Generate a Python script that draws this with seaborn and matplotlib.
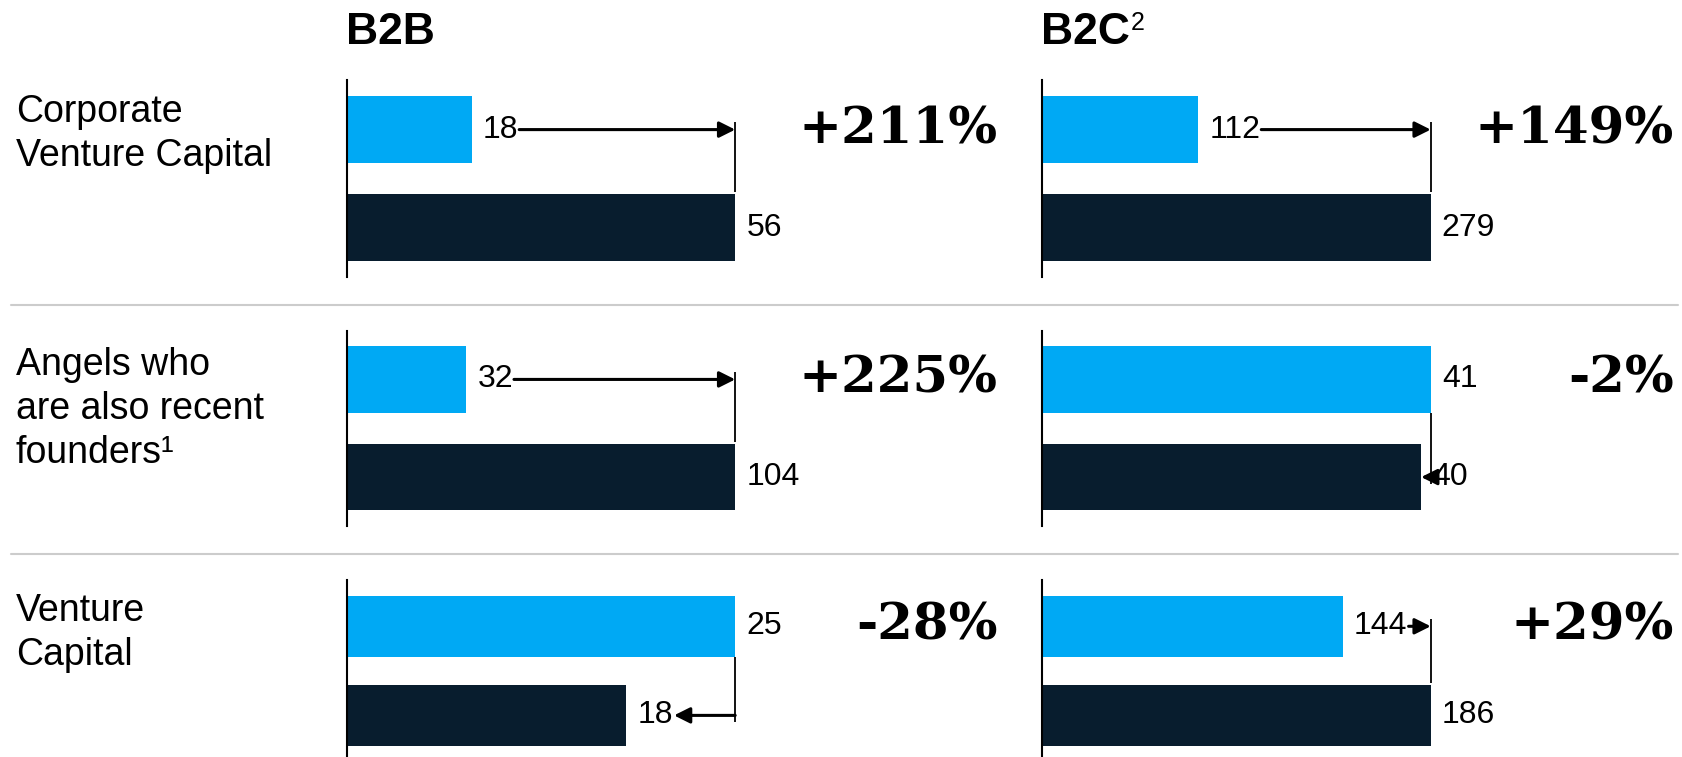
import matplotlib
matplotlib.use("Agg")
import matplotlib.pyplot as plt
import matplotlib.transforms as mtransforms
from matplotlib.lines import Line2D
import pandas as pd
import seaborn as sns

# Deal counts per investor type, before and after, for each business model
investor_types = ["Corporate\nVenture Capital",
                  "Angels who\nare also recent\nfounders\u00b9",
                  "Venture\nCapital"]
segments = ["B2B", "B2C"]
periods = ["Before", "After"]
b2b_before = [18, 32, 25]
b2b_after = [56, 104, 18]
b2c_before = [112, 41, 144]
b2c_after = [279, 40, 186]

LIGHT = "#00A9F4"
DARK = "#081D2E"
GRID = "#CCCCCC"

sns.set_theme(style="white")
plt.rcParams["font.family"] = ["Liberation Sans", "DejaVu Sans"]

W, H = 1683, 757
fig = plt.figure(figsize=(W / 100, H / 100), dpi=100)
renderer = fig.canvas.get_renderer()


def px_rect(x0, y0, w, h):
    return [x0 / W, 1 - (y0 + h) / H, w / W, h / H]


# panel layout in pixels
col_x = [346.7, 1042.2]
col_w = 388.5
row_y = [80.5, 330.6, 579.6]
row_h = [196.4, 195.3, 177.4]
row_ylim = [(1.5, -0.5), (1.5, -0.5), (1.467, -0.524)]
label_top = [94, 347, 593]
pct_right = [998, 1674]
BAR_W = 0.68
HALF = BAR_W / 2

values = {"B2B": (b2b_before, b2b_after), "B2C": (b2c_before, b2c_after)}

NUM_FS = 23
GAP_PT = 8
ARROW = dict(arrowstyle="-|>", color="black", lw=2.2, mutation_scale=24,
             shrinkA=0, shrinkB=0)


def value_label(ax, x, y, text):
    t = ax.annotate(text, xy=(x, y), xytext=(GAP_PT, 0), textcoords="offset points",
                    ha="left", va="center", fontsize=NUM_FS, color="black",
                    annotation_clip=False)
    bb = t.get_window_extent(renderer)
    inv = ax.transData.inverted()
    x0 = inv.transform((bb.x0, bb.y0))[0]
    x1 = inv.transform((bb.x1, bb.y0))[0]
    return x0, x1


for c, seg in enumerate(segments):
    before_vals, after_vals = values[seg]
    for r in range(len(investor_types)):
        ax = fig.add_axes(px_rect(col_x[c], row_y[r], col_w, row_h[r]))
        before, after = before_vals[r], after_vals[r]
        df = pd.DataFrame({"period": periods, "value": [before, after]})
        sns.barplot(data=df, x="value", y="period", hue="period",
                    order=periods, hue_order=periods, palette=[LIGHT, DARK],
                    orient="h", width=BAR_W, saturation=1, linewidth=0,
                    legend=False, ax=ax)
        top = max(before, after)
        ax.set_xlim(0, top)
        ax.set_ylim(*row_ylim[r])
        ax.set_xticks([])
        ax.set_yticks([])
        ax.set_xlabel("")
        ax.set_ylabel("")
        for side in ["top", "right", "bottom"]:
            ax.spines[side].set_visible(False)
        ax.spines["left"].set_color("black")
        ax.spines["left"].set_linewidth(1.5)
        ax.set_facecolor("none")

        dx_px = top / col_w  # data units per pixel
        if after >= before:
            lx0, lx1 = value_label(ax, before, 0, f"{before}")
            value_label(ax, after, 1, f"{after}")
            ax.annotate("", xy=(top, 0), xytext=(lx1 + 1 * dx_px, 0),
                        arrowprops=ARROW, annotation_clip=False)
            ax.plot([top, top], [-0.08, 1 - HALF - 0.02], color="black",
                    lw=1.3, solid_capstyle="butt", clip_on=False)
        else:
            value_label(ax, before, 0, f"{before}")
            lx0, lx1 = value_label(ax, after, 1, f"{after}")
            tip = lx1 + 1 * dx_px if lx1 < before - 6 * dx_px else after
            ax.plot([before, before], [HALF, 1.07], color="black",
                    lw=1.3, solid_capstyle="butt", clip_on=False)
            ax.annotate("", xy=(tip, 1), xytext=(before, 1),
                        arrowprops=ARROW, annotation_clip=False)

        change = round((after / before - 1) * 100)
        trans = mtransforms.blended_transform_factory(fig.transFigure, ax.transData)
        ax.text(pct_right[c] / W, 0, f"{change:+d}%", transform=trans,
                ha="right", va="center", fontsize=37, fontweight="bold",
                family=["DejaVu Serif"], color="black", clip_on=False)

# row labels
for r, name in enumerate(investor_types):
    fig.text(16 / W, 1 - label_top[r] / H, name, ha="left", va="top",
             fontsize=27, linespacing=1.28, color="black")

# column titles
title_x = [346, 1041]
for c, seg in enumerate(segments):
    t = fig.text(title_x[c] / W, 1 - 44 / H, seg, ha="left", va="baseline",
                 fontsize=32, fontweight="bold", color="black")
    if seg == "B2C":
        bb = t.get_window_extent(renderer)
        fig.text((bb.x1 + 1) / W, 1 - 30 / H, "2", ha="left", va="baseline",
                 fontsize=18, color="black")

# separators between rows
for y in [305, 554]:
    fig.add_artist(Line2D([11 / W, 1678 / W], [1 - y / H, 1 - y / H],
                          color=GRID, lw=1.5, transform=fig.transFigure))

fig.savefig("out.png", dpi=100, facecolor="white")
